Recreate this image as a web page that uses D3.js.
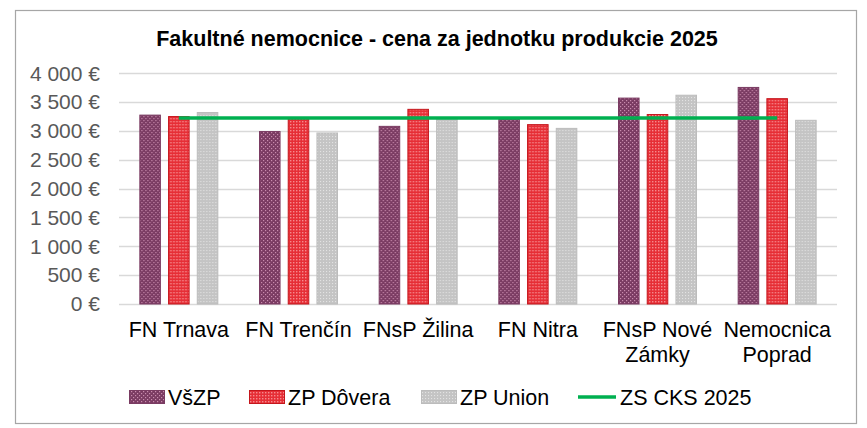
<!DOCTYPE html>
<html>
<head>
<meta charset="utf-8">
<script src="https://cdn.jsdelivr.net/npm/d3@7"></script>
<style>
  body { margin: 0; background: #fff; }
  svg { font-family: "Liberation Sans", Arial, sans-serif; }
</style>
</head>
<body>
<div id="chart"></div>
<script>
// chart data
var categories = [["FN Trnava"], ["FN Trenčín"], ["FNsP Žilina"], ["FN Nitra"], ["FNsP Nové", "Zámky"], ["Nemocnica", "Poprad"]];
var seriesNames = ["VšZP", "ZP Dôvera", "ZP Union"];
var vszp   = [3275, 2990, 3080, 3230, 3570, 3755];
var dovera = [3250, 3225, 3375, 3110, 3285, 3560];
var union  = [3320, 2965, 3215, 3045, 3620, 3185];
var lineName = "ZS CKS 2025";
var cks2025 = [3225, 3225, 3225, 3225, 3225, 3225];
var yTicks = [0, 500, 1000, 1500, 2000, 2500, 3000, 3500, 4000];
var title = "Fakultné nemocnice - cena za jednotku produkcie 2025";

var width = 867, height = 428;

var svg = d3.select("#chart").append("svg")
    .attr("width", width)
    .attr("height", height);

// patterns like the excel fills
var defs = svg.append("defs");

var p1 = defs.append("pattern").attr("id", "pat-vszp")
    .attr("patternUnits", "userSpaceOnUse").attr("width", 4).attr("height", 4);
p1.append("rect").attr("width", 4).attr("height", 4).attr("fill", "#7a3b62");
p1.append("rect").attr("x", 0).attr("y", 0).attr("width", 1.2).attr("height", 1.2).attr("fill", "#c98cae");
p1.append("rect").attr("x", 2).attr("y", 2).attr("width", 1.2).attr("height", 1.2).attr("fill", "#c98cae");

var p2 = defs.append("pattern").attr("id", "pat-dovera")
    .attr("patternUnits", "userSpaceOnUse").attr("width", 3).attr("height", 3);
p2.append("rect").attr("width", 3).attr("height", 3).attr("fill", "#e62e36");
p2.append("rect").attr("x", 1).attr("y", 1).attr("width", 1.4).attr("height", 1.4).attr("fill", "#f58a8e");

var p3 = defs.append("pattern").attr("id", "pat-union")
    .attr("patternUnits", "userSpaceOnUse").attr("width", 3).attr("height", 3);
p3.append("rect").attr("width", 3).attr("height", 3).attr("fill", "#c4c4c4");
p3.append("rect").attr("x", 1).attr("y", 1).attr("width", 1.1).attr("height", 1.1).attr("fill", "#e2e2e2");

var fills = ["url(#pat-vszp)", "url(#pat-dovera)", "url(#pat-union)"];
var strokes = ["#7a3b62", "#c4161c", "#bcbcbc"];

// outer frame
svg.append("rect")
    .attr("x", 15.5).attr("y", 10.5)
    .attr("width", 841).attr("height", 413)
    .attr("fill", "#fff")
    .attr("stroke", "#a6a6a6")
    .attr("stroke-width", 1.2);

svg.append("text")
    .attr("x", 437).attr("y", 46)
    .attr("text-anchor", "middle")
    .attr("font-size", 21.5)
    .attr("font-weight", "bold")
    .attr("fill", "#000")
    .text(title);

var x0 = d3.scaleBand()
    .domain(d3.range(categories.length))
    .range([119, 837])
    .paddingInner(0.34)
    .paddingOuter(0.17);

var x1 = d3.scaleBand()
    .domain(d3.range(seriesNames.length))
    .range([0, x0.bandwidth()])
    .paddingInner(0.25);

var y = d3.scaleLinear()
    .domain([0, 4000])
    .range([304, 73.3]);

var fmt = function(d) {
    return d3.format(",")(d).replace(/,/g, " ") + " €";
};

// gridlines
svg.append("g")
    .selectAll("line")
    .data(yTicks)
    .enter().append("line")
        .attr("x1", 119).attr("x2", 837)
        .attr("y1", function(d) { return Math.round(y(d)) + 0.5; })
        .attr("y2", function(d) { return Math.round(y(d)) + 0.5; })
        .attr("stroke", "#d9d9d9")
        .attr("stroke-width", 1.3);

// y axis labels
var yAxis = d3.axisLeft(y).tickValues(yTicks).tickFormat(fmt).tickSize(0).tickPadding(0);
var gy = svg.append("g")
    .attr("transform", "translate(100,0)")
    .call(yAxis);
gy.select(".domain").remove();
gy.selectAll("text")
    .attr("font-size", 21)
    .attr("fill", "#595959")
    .attr("font-family", "'Liberation Sans', Arial, sans-serif");

// bars
var series = [vszp, dovera, union];
var groups = svg.append("g")
    .selectAll("g")
    .data(categories)
    .enter().append("g")
        .attr("transform", function(d, i) { return "translate(" + x0(i) + ",0)"; });

groups.selectAll("rect")
    .data(function(d, i) { return series.map(function(s, k) { return { k: k, v: s[i] }; }); })
    .enter().append("rect")
        .attr("x", function(d) { return x1(d.k) + 0.5; })
        .attr("width", x1.bandwidth() - 1)
        .attr("y", function(d) { return y(d.v); })
        .attr("height", function(d) { return y(0) - y(d.v); })
        .attr("fill", function(d) { return fills[d.k]; })
        .attr("stroke", function(d) { return strokes[d.k]; })
        .attr("stroke-width", 1);

// line series through category centres
var line = d3.line()
    .x(function(d, i) { return x0(i) + x0.bandwidth() / 2; })
    .y(function(d) { return y(d); });

svg.append("path")
    .datum(cks2025)
    .attr("d", line)
    .attr("fill", "none")
    .attr("stroke", "#00b050")
    .attr("stroke-width", 3.5);

// category labels
var cat = svg.append("g")
    .selectAll("text")
    .data(categories)
    .enter().append("text")
        .attr("text-anchor", "middle")
        .attr("font-size", 21.5)
        .attr("fill", "#000");

cat.selectAll("tspan")
    .data(function(d, i) { return d.map(function(t) { return { t: t, i: i }; }); })
    .enter().append("tspan")
        .attr("x", function(d) { return x0(d.i) + x0.bandwidth() / 2; })
        .attr("y", function(d, j) { return 337 + j * 25; })
        .text(function(d) { return d.t; });

// legend
var legendItems = [
    { name: seriesNames[0], type: "bar", k: 0, x: 129 },
    { name: seriesNames[1], type: "bar", k: 1, x: 249 },
    { name: seriesNames[2], type: "bar", k: 2, x: 421 },
    { name: lineName, type: "line", x: 578 }
];

var leg = svg.append("g")
    .selectAll("g")
    .data(legendItems)
    .enter().append("g")
        .attr("transform", function(d) { return "translate(" + d.x + ",397)"; });

leg.filter(function(d) { return d.type === "bar"; })
    .append("rect")
        .attr("x", 0.5).attr("y", -6.5)
        .attr("width", 35).attr("height", 13)
        .attr("fill", function(d) { return fills[d.k]; })
        .attr("stroke", function(d) { return strokes[d.k]; });

leg.filter(function(d) { return d.type === "line"; })
    .append("line")
        .attr("x1", 0).attr("x2", 38)
        .attr("y1", 0).attr("y2", 0)
        .attr("stroke", "#00b050")
        .attr("stroke-width", 3.5);

leg.append("text")
    .attr("x", function(d) { return d.type === "line" ? 42 : 39; })
    .attr("y", 7.5)
    .attr("font-size", 21.5)
    .attr("fill", "#000")
    .text(function(d) { return d.name; });
</script>
</body>
</html>
